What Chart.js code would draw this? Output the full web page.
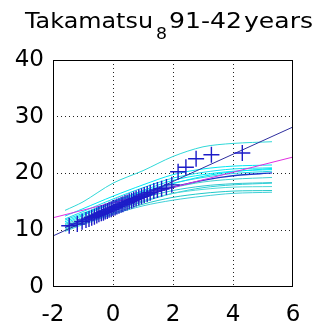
<!DOCTYPE html>
<html>
<head>
<meta charset="utf-8">
<script src="https://cdn.jsdelivr.net/npm/chart.js@4.4.1/dist/chart.umd.min.js"></script>
<style>
  html, body { margin: 0; padding: 0; background: #fff; }
  #wrap { width: 321px; height: 323px; }
</style>
</head>
<body>
<div id="wrap"><canvas id="chart" width="321" height="323"></canvas></div>
<script>
// plotting positions (reduced variate) and sorted annual maxima
const plotX = [-1.46, -1.19, -1.03, -0.90, -0.80, -0.71, -0.62, -0.54, -0.47, -0.39,
  -0.32, -0.26, -0.19, -0.13, -0.06, 0.00, 0.07, 0.13, 0.20, 0.27,
  0.33, 0.40, 0.47, 0.54, 0.62, 0.69, 0.77, 0.86, 0.95, 1.04,
  1.14, 1.24, 1.36, 1.48, 1.62, 1.78, 1.96, 2.17, 2.43, 2.77,
  3.28, 4.31];
const annualMax = [10.8, 11.1, 11.5, 11.8, 12.0, 12.2, 12.4, 12.6, 12.8, 13.0,
  13.1, 13.3, 13.4, 13.6, 13.7, 13.9, 14.0, 14.2, 14.3, 14.5,
  14.6, 14.8, 14.9, 15.1, 15.2, 15.4, 15.6, 15.8, 16.0, 16.2,
  16.4, 16.6, 16.9, 17.1, 17.3, 17.6, 18.0, 20.3, 21.1, 22.6,
  23.3, 23.6];

// simulated curves (cyan)
const curveX = [-1.6, -1, 0, 1, 2, 3, 4, 5.3];
const simCurves = [
  [13.5, 15.0, 18.3, 20.5, 23.0, 24.7, 25.3, 25.6],
  [12.5, 13.8, 16.0, 18.0, 19.8, 20.8, 21.3, 21.5],
  [12.0, 13.3, 15.5, 17.5, 19.2, 20.2, 20.8, 21.0],
  [11.5, 12.8, 15.0, 17.0, 18.8, 19.8, 20.4, 20.7],
  [11.8, 13.0, 15.0, 16.8, 18.3, 19.3, 20.0, 20.4],
  [11.0, 12.3, 14.3, 16.0, 17.5, 18.5, 19.0, 19.3],
  [10.8, 12.0, 14.0, 15.7, 17.0, 17.8, 18.2, 18.4],
  [10.5, 11.6, 13.5, 15.2, 16.5, 17.2, 17.6, 17.7],
  [10.0, 11.2, 13.0, 14.6, 15.8, 16.5, 16.9, 17.0],
  [9.8, 11.0, 12.8, 14.3, 15.3, 16.0, 16.5, 16.7],
  [11.2, 12.6, 14.8, 16.6, 18.2, 19.5, 20.3, 20.9],
  [10.2, 11.5, 13.3, 15.0, 16.5, 17.5, 18.0, 18.3]
];
const simColors = ['#30d8d8', '#00e8f4', '#10e0ee', '#00f0f8', '#20d8e8', '#40d0d0',
  '#30c8d0', '#50d8d8', '#20c8c8', '#40d0d8', '#00e4f0', '#30d0d8'];
const meanCurve = [10.5, 11.8, 13.8, 15.8, 17.6, 18.8, 19.6, 20.1];

// fitted lines
const fitX = [-2, 6];
const gumbelFit = [9.0, 28.2];
const magentaFit = [12.2, 22.9];

const xTicks = [-2, 0, 2, 4, 6];
const yTicks = [0, 10, 20, 30, 40];

function pts(xs, ys) {
  return xs.map((x, i) => ({ x: x, y: ys[i] }));
}

const datasets = [];
datasets.push({
  label: 'data',
  data: pts(plotX, annualMax),
  showLine: false,
  pointStyle: 'cross',
  pointRadius: 8,
  pointBorderWidth: 1.4,
  borderColor: '#1c1cc8',
  backgroundColor: '#1c1cc8'
});
datasets.push({ label: 'fit', data: pts(fitX, gumbelFit), showLine: true, borderColor: '#2e2e9e', borderWidth: 1, pointRadius: 0 });
datasets.push({ label: 'fit2', data: pts(fitX, magentaFit), showLine: true, borderColor: '#e030e0', borderWidth: 1, pointRadius: 0 });
datasets.push({ label: 'mean', data: pts(curveX, meanCurve), showLine: true, borderColor: '#1838c8', borderWidth: 1.3, pointRadius: 0, tension: 0.3 });
simCurves.forEach((c, i) => {
  datasets.push({
    label: 'sim' + i,
    data: pts(curveX, c),
    showLine: true,
    borderColor: simColors[i],
    borderWidth: 1,
    pointRadius: 0,
    tension: 0.3
  });
});

// fit a piece of text into a given width
function drawFit(ctx, text, x, y, w) {
  const natural = ctx.measureText(text).width;
  ctx.save();
  ctx.translate(x, y);
  ctx.scale(w / natural, 1);
  ctx.fillText(text, 0, 0);
  ctx.restore();
}

const framePlugin = {
  id: 'frame',
  afterDatasetsDraw(chart) {
    const a = chart.chartArea;
    const ctx = chart.ctx;
    ctx.save();
    ctx.strokeStyle = '#000';
    ctx.lineWidth = 1;
    ctx.strokeRect(Math.round(a.left) + 0.5, Math.round(a.top) + 0.5,
      Math.round(a.right - a.left) - 1, Math.round(a.bottom - a.top) - 1);
    ctx.restore();
  },
  afterDraw(chart) {
    // title with the subscript 8, as in the original
    const ctx = chart.ctx;
    ctx.save();
    ctx.fillStyle = '#000';
    ctx.textBaseline = 'alphabetic';
    ctx.font = '22px "DejaVu Sans"';
    drawFit(ctx, 'Takamatsu', 25, 28, 128);
    drawFit(ctx, '91-42', 169, 28, 73);
    drawFit(ctx, 'years', 244, 28, 69);
    ctx.font = '16px "DejaVu Sans"';
    drawFit(ctx, '8', 156, 39, 11);
    ctx.restore();
  }
};

new Chart(document.getElementById('chart'), {
  type: 'scatter',
  data: { datasets: datasets },
  options: {
    responsive: false,
    animation: false,
    layout: { padding: { top: 60, right: 28, left: 0, bottom: 0 } },
    plugins: {
      legend: { display: false },
      tooltip: { enabled: false },
      title: { display: false }
    },
    scales: {
      x: {
        type: 'linear',
        min: -2,
        max: 6,
        afterBuildTicks: s => { s.ticks = xTicks.map(v => ({ value: v })); },
        afterFit: s => { s.height = 36; },
        border: { display: false, dash: [1, 3] },
        grid: {
          drawTicks: false,
          color: c => (c.tick && (c.tick.value === -2 || c.tick.value === 6)) ? 'rgba(0,0,0,0)' : '#222',
          lineWidth: 1
        },
        ticks: {
          color: '#000',
          padding: 14,
          maxRotation: 0,
          font: { family: 'DejaVu Sans', size: 23 }
        }
      },
      y: {
        type: 'linear',
        min: 0,
        max: 40,
        afterBuildTicks: s => { s.ticks = yTicks.map(v => ({ value: v })); },
        afterFit: s => { s.width = 53; },
        border: { display: false, dash: [1, 3] },
        grid: {
          drawTicks: false,
          color: c => (c.tick && (c.tick.value === 0 || c.tick.value === 40)) ? 'rgba(0,0,0,0)' : '#222',
          lineWidth: 1
        },
        ticks: {
          color: '#000',
          padding: 9,
          font: { family: 'DejaVu Sans', size: 23 }
        }
      }
    }
  },
  plugins: [framePlugin]
});
</script>
</body>
</html>
